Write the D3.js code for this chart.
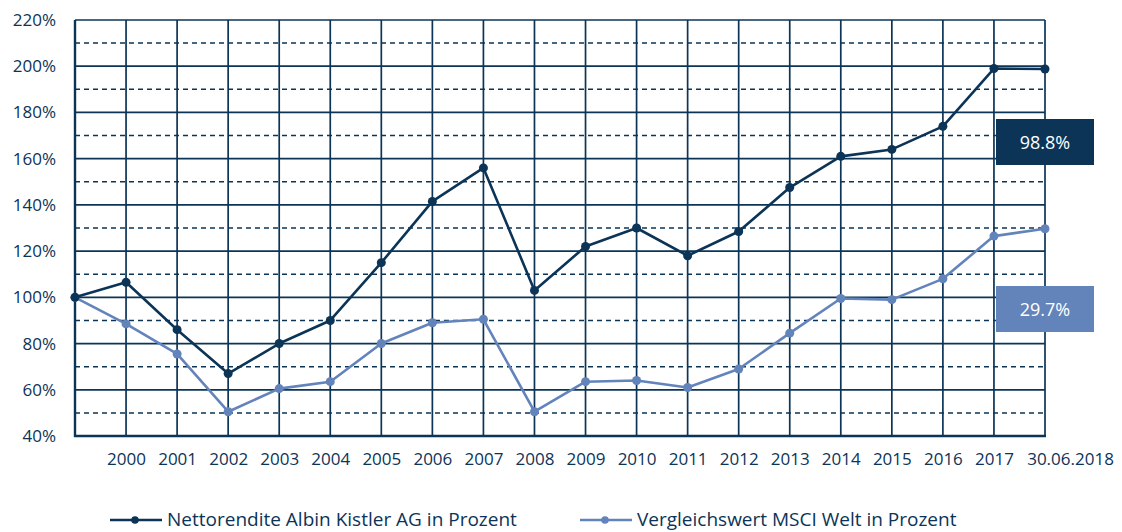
<!DOCTYPE html>
<html>
<head>
<meta charset="utf-8">
<script src="https://cdn.jsdelivr.net/npm/d3@7"></script>
<style>
  body { margin: 0; background: #fff; }
  text { font-family: "Open Sans", Lato, sans-serif; }
</style>
</head>
<body>
<div id="chart"></div>
<script>
// data
var periods = ["1999", "2000", "2001", "2002", "2003", "2004", "2005", "2006", "2007", "2008",
  "2009", "2010", "2011", "2012", "2013", "2014", "2015", "2016", "2017", "30.06.2018"];
var kistler = [100, 106.5, 86, 67, 80, 90, 115, 141.5, 156, 103,
  122, 130, 118, 128.5, 147.5, 161, 164, 174, 199, 198.8];
var msci = [100, 88.5, 75.5, 50.5, 60.5, 63.5, 80, 89, 90.5, 50.5,
  63.5, 64, 61, 69, 84.5, 99.5, 99, 108, 126.5, 129.7];
var yTicks = [40, 60, 80, 100, 120, 140, 160, 180, 200, 220];
var yDashed = [50, 70, 90, 110, 130, 150, 170, 190, 210];
var seriesNames = ["Nettorendite Albin Kistler AG in Prozent", "Vergleichswert MSCI Welt in Prozent"];
var endLabels = ["98.8%", "29.7%"];

var navy = "#0b3457";
var light = "#6383bb";

var svgWidth = 1122, svgHeight = 532;
var margin = { top: 20, right: 77, bottom: 96, left: 75 };
var width = svgWidth - margin.left - margin.right;
var height = svgHeight - margin.top - margin.bottom;

var svg = d3.select("#chart").append("svg")
  .attr("width", svgWidth)
  .attr("height", svgHeight);

var chartGroup = svg.append("g")
  .attr("transform", `translate(${margin.left}, ${margin.top})`);

var x = d3.scalePoint().domain(periods).range([0, width]);
var y = d3.scaleLinear().domain([40, 220]).range([height, 0]);

// dashed half-step lines
chartGroup.append("g")
  .selectAll("line")
  .data(yDashed)
  .enter()
  .append("line")
  .attr("x1", 0)
  .attr("x2", width)
  .attr("y1", d => y(d))
  .attr("y2", d => y(d))
  .attr("stroke", navy)
  .attr("stroke-width", 1.5)
  .attr("stroke-dasharray", "5,4");

// solid horizontal grid
chartGroup.append("g")
  .selectAll("line")
  .data(yTicks)
  .enter()
  .append("line")
  .attr("x1", 0)
  .attr("x2", width)
  .attr("y1", d => y(d))
  .attr("y2", d => y(d))
  .attr("stroke", navy)
  .attr("stroke-width", 1.7);

// vertical grid
chartGroup.append("g")
  .selectAll("line")
  .data(periods)
  .enter()
  .append("line")
  .attr("x1", d => x(d))
  .attr("x2", d => x(d))
  .attr("y1", 0)
  .attr("y2", height)
  .attr("stroke", navy)
  .attr("stroke-width", 1.7);

// axis frame (left + bottom thicker)
chartGroup.append("line")
  .attr("x1", 0).attr("x2", 0).attr("y1", 0).attr("y2", height + 1)
  .attr("stroke", navy).attr("stroke-width", 2.4);
chartGroup.append("line")
  .attr("x1", -1).attr("x2", width + 1).attr("y1", height).attr("y2", height)
  .attr("stroke", navy).attr("stroke-width", 2.4);

// y axis labels
var yAxis = d3.axisLeft(y).tickValues(yTicks).tickSize(0).tickPadding(19)
  .tickFormat(d => d + "%");
var yG = chartGroup.append("g").call(yAxis);
yG.select(".domain").remove();
yG.selectAll("text")
  .attr("fill", navy)
  .style("font-size", "17px")
  .style("font-family", "'Open Sans', sans-serif");

// x axis labels
var xAxis = d3.axisBottom(x).tickSize(0).tickPadding(17);
var xG = chartGroup.append("g")
  .attr("transform", `translate(0, ${height})`)
  .call(xAxis);
xG.select(".domain").remove();
xG.selectAll(".tick").filter(d => d === "1999").remove();
xG.selectAll("text")
  .attr("fill", navy)
  .style("font-size", "17px")
  .style("font-family", "'Open Sans', sans-serif");
// the last label sits to the right of its gridline
xG.selectAll(".tick").filter(d => d === "30.06.2018").select("text")
  .attr("dx", 25);

// series lines + points
var series = [
  { values: kistler, color: navy, r: 4.5 },
  { values: msci, color: light, r: 4.5 }
];

var line = d3.line()
  .x((d, i) => x(periods[i]))
  .y(d => y(d));

series.slice().reverse().forEach(function (s) {
  chartGroup.append("path")
    .datum(s.values)
    .attr("d", line)
    .attr("fill", "none")
    .attr("stroke", s.color)
    .attr("stroke-width", 2.6)
    .attr("stroke-linejoin", "round");

  chartGroup.append("g")
    .selectAll("circle")
    .data(s.values)
    .enter()
    .append("circle")
    .attr("cx", (d, i) => x(periods[i]))
    .attr("cy", d => y(d))
    .attr("r", s.r)
    .attr("fill", s.color);
});

// end value boxes
var boxW = 98, boxH = 46;
var boxCenters = [142, 309];
series.forEach(function (s, i) {
  var cy = boxCenters[i] - margin.top;
  var bx = width - 49;
  chartGroup.append("rect")
    .attr("x", bx)
    .attr("y", cy - boxH / 2)
    .attr("width", boxW)
    .attr("height", boxH)
    .attr("fill", s.color);
  chartGroup.append("text")
    .attr("x", bx + boxW / 2)
    .attr("y", cy + 7)
    .attr("text-anchor", "middle")
    .attr("fill", "#fff")
    .style("font-size", "18px")
    .text(endLabels[i]);
});

// legend
var legendX = [110, 580];
var legend = svg.append("g").attr("transform", "translate(0, 520)");
series.forEach(function (s, i) {
  var g = legend.append("g").attr("transform", `translate(${legendX[i]}, 0)`);
  g.append("line")
    .attr("x1", 0).attr("x2", 52).attr("y1", 0).attr("y2", 0)
    .attr("stroke", s.color).attr("stroke-width", 2.6);
  g.append("circle")
    .attr("cx", 25).attr("cy", 0).attr("r", 3.8).attr("fill", s.color);
  g.append("text")
    .attr("x", 57).attr("y", 6)
    .attr("fill", navy)
    .style("font-size", "19px")
    .text(seriesNames[i]);
});
</script>
</body>
</html>
